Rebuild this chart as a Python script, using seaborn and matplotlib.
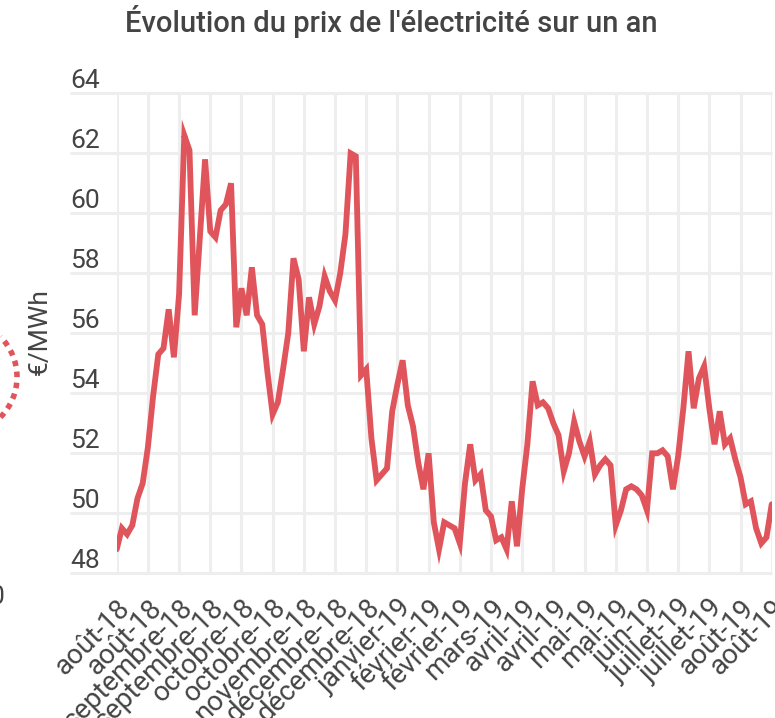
import numpy as np
import pandas as pd
import matplotlib.pyplot as plt
import matplotlib.transforms as mtransforms
import seaborn as sns
from matplotlib.patches import Arc

# prix spot (€/MWh), un point tous les deux jours ouvrés environ
prix = [
    48.8, 49.5, 49.3, 49.6, 50.5, 51.0, 52.2, 53.9, 55.3, 55.5,
    56.8, 55.2, 57.3, 62.6, 62.1, 56.6, 59.2, 61.8, 59.4, 59.2,
    60.1, 60.3, 61.0, 56.2, 57.5, 56.6, 58.2, 56.6, 56.3, 54.7,
    53.3, 53.7, 54.8, 56.0, 58.5, 57.8, 55.4, 57.2, 56.3, 56.9,
    57.9, 57.4, 57.1, 58.0, 59.3, 62.0, 61.9, 54.6, 54.8, 52.5,
    51.1, 51.3, 51.5, 53.4, 54.3, 55.1, 53.6, 52.9, 51.7, 50.8,
    52.0, 49.7, 48.8, 49.7, 49.6, 49.5, 49.0, 51.0, 52.3, 51.1,
    51.3, 50.1, 49.9, 49.1, 49.2, 48.8, 50.4, 48.9, 50.8, 52.3,
    54.4, 53.6, 53.7, 53.5, 53.0, 52.6, 51.4, 52.0, 53.05, 52.4,
    51.9, 52.4, 51.3, 51.6, 51.8, 51.6, 49.6, 50.1, 50.8, 50.9,
    50.8, 50.6, 50.1, 52.0, 52.0, 52.1, 51.9, 50.8, 51.9, 53.5,
    55.4, 53.5, 54.5, 54.9, 53.5, 52.3, 53.4, 52.3, 52.5, 51.8,
    51.2, 50.3, 50.4, 49.5, 49.0, 49.2, 50.3,
]
mois = ["août-18", "août-18", "septembre-18", "septembre-18", "octobre-18",
        "octobre-18", "novembre-18", "décembre-18", "décembre-18", "janvier-19",
        "février-19", "février-19", "mars-19", "avril-19", "avril-19", "mai-19",
        "mai-19", "juin-19", "juillet-19", "juillet-19", "août-19", "août-19"]
pas = 6  # une étiquette tous les 6 points
y_ticks = [48, 50, 52, 54, 56, 58, 60, 62, 64]

df = pd.DataFrame({"jour": np.arange(len(prix)), "prix": prix})

sns.set_theme(style="white")
plt.rcParams['font.family'] = ['Roboto', 'DejaVu Sans']
texte = '#444444'
rouge = '#E0555B'
grille = '#EEEEEE'

W, H = 775, 718
fig = plt.figure(figsize=(W / 100, H / 100), dpi=100)
ax = fig.add_axes([116.7 / W, 1 - 573.3 / H, 655 / W, 480 / H])

sns.lineplot(data=df, x="jour", y="prix", color=rouge, linewidth=4.2, ax=ax,
             solid_joinstyle='miter', zorder=3)

ax.set_xlim(0, len(prix) - 1)
ax.set_ylim(48, 64)
ax.set_xlabel("")
ax.set_ylabel("")
for s in ax.spines.values():
    s.set_visible(False)

# grille verticale + horizontale prolongée sous les étiquettes
ax.set_xticks(np.arange(0, len(prix), pas))
ax.grid(axis='x', color=grille, linewidth=2.2, zorder=0)
ax.grid(axis='y', visible=False)
ax.hlines(y_ticks, -0.072, 1.0, transform=ax.get_yaxis_transform(),
          color=grille, linewidth=2.2, clip_on=False, zorder=0)

ax.set_xticklabels(mois, rotation=45, ha='right', va='top', rotation_mode='anchor',
                   fontsize=20, color=texte)
decal = mtransforms.ScaledTranslation(8 / 100, 0, fig.dpi_scale_trans)
for lab in ax.get_xticklabels():
    lab.set_transform(lab.get_transform() + decal)
ax.tick_params(axis='x', length=0, pad=15)

ax.set_yticks(y_ticks)
ax.set_yticklabels([str(v) for v in y_ticks], fontsize=19, color=texte, va='bottom')
ax.tick_params(axis='y', length=0, pad=12)

fig.text(391 / W, 1 - 22 / H, "Évolution du prix de l'électricité sur un an",
         ha='center', va='center', fontsize=21, fontweight='medium', color=texte)
fig.text(40 / W, 1 - 332 / H, "€/MWh", rotation=90, ha='center', va='center',
         fontsize=19, color=texte)

# éléments voisins coupés au bord gauche
arc = Arc((-40 / W, 1 - 377 / H), 114 / W, 114 / H, theta1=-47, theta2=47,
          transform=fig.transFigure, color=rouge, linewidth=4.0,
          linestyle=(0, (1.0, 1.0)))
fig.add_artist(arc)
fig.text(-3 / W, 1 - 597 / H, "0", ha='center', va='center', fontsize=19, color=texte)

fig.savefig("out.png", dpi=100)
